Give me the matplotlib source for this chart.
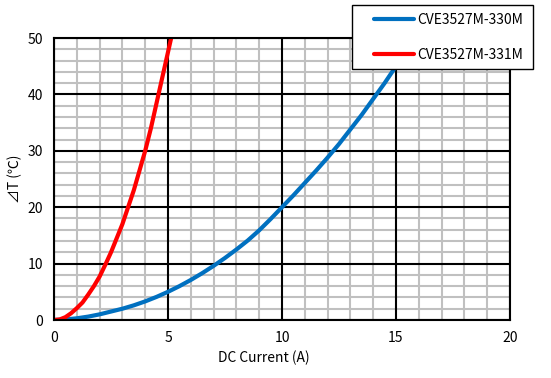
import matplotlib
matplotlib.use("Agg")
import matplotlib.pyplot as plt
import numpy as np
from matplotlib.patches import Rectangle
from matplotlib.ticker import MultipleLocator

plt.rcParams['font.family'] = ['Noto Sans CJK JP', 'DejaVu Sans']

# CVE3527M-330M
blue_i = [0, 0.5, 1, 1.5, 2, 2.5, 3, 3.5, 4, 4.5, 5, 5.5, 6, 6.5, 7, 7.5, 8, 8.5, 9, 9.5,
          10, 10.5, 11, 11.5, 12, 12.5, 13, 13.5, 14, 14.5, 15, 15.5, 16]
blue_t = [0, 0.1, 0.3, 0.6, 1.0, 1.5, 2.0, 2.6, 3.3, 4.1, 5.0, 6.0, 7.1, 8.3, 9.6, 11.0, 12.5,
          14.1, 15.9, 17.9, 20.0, 22.1, 24.3, 26.5, 28.8, 31.2, 33.8, 36.4, 39.2, 42.0, 45.0,
          48.0, 51.0]

# CVE3527M-331M
red_i = [0, 0.25, 0.5, 0.75, 1, 1.25, 1.5, 1.75, 2, 2.25, 2.5, 2.75, 3, 3.25, 3.5, 3.75,
         4, 4.25, 4.5, 4.75, 5, 5.25]
red_t = [0, 0.1, 0.5, 1.2, 2.1, 3.1, 4.5, 6.0, 7.7, 9.8, 12.0, 14.5, 17.0, 20.0, 23.0,
         26.5, 30.0, 34.0, 38.5, 43.0, 47.5, 52.0]

labels = ["CVE3527M-330M", "CVE3527M-331M"]

W, H = 551, 378
fig = plt.figure(figsize=(W / 100, H / 100), dpi=100)
rect = [54 / W, 1 - 320 / H, 456 / W, 282 / H]

# background axes carries the light minor grid so the black major grid sits on top of it
bg = fig.add_axes(rect)
ax = fig.add_axes(rect)
for a in (bg, ax):
    a.set_xlim(0, 20)
    a.set_ylim(0, 50)
    a.xaxis.set_major_locator(MultipleLocator(5))
    a.yaxis.set_major_locator(MultipleLocator(10))
bg.xaxis.set_minor_locator(MultipleLocator(1))
bg.yaxis.set_minor_locator(MultipleLocator(2))
bg.grid(which="minor", color="#c0c0c0", lw=1.5)
bg.tick_params(which="both", length=0, labelbottom=False, labelleft=False)
for s in bg.spines.values():
    s.set_visible(False)

ax.patch.set_visible(False)
ax.grid(which="major", color="black", lw=1.5)
ax.set_axisbelow(True)

ax.plot(blue_i, blue_t, color="#0070C0", lw=3, label=labels[0], solid_capstyle="round")
ax.plot(red_i, red_t, color="#FF0000", lw=3, label=labels[1], solid_capstyle="round")

ax.tick_params(which="both", length=0, labelsize=10, pad=8)
for s in ax.spines.values():
    s.set_linewidth(1.5)

ax.set_xlabel("DC Current (A)", fontsize=10)
ax.xaxis.set_label_coords(0.46, -0.11)
ax.set_ylabel("⊿T (℃)", fontsize=10)

# legend box drawn separately so the entries can sit inset from its left edge
fig.patches.append(Rectangle((352 / W, 1 - 69 / H), 181 / W, 64 / H, transform=fig.transFigure,
                             facecolor="white", edgecolor="black", lw=1.0, zorder=4))
leg = fig.legend(loc="upper left", bbox_to_anchor=(374 / W, 1 - 13 / H), frameon=False,
                 fontsize=10, handlelength=2.9, handletextpad=0.2, labelspacing=1.5,
                 borderpad=0, borderaxespad=0)
leg.set_zorder(5)

fig.savefig("out.png", dpi=100)
